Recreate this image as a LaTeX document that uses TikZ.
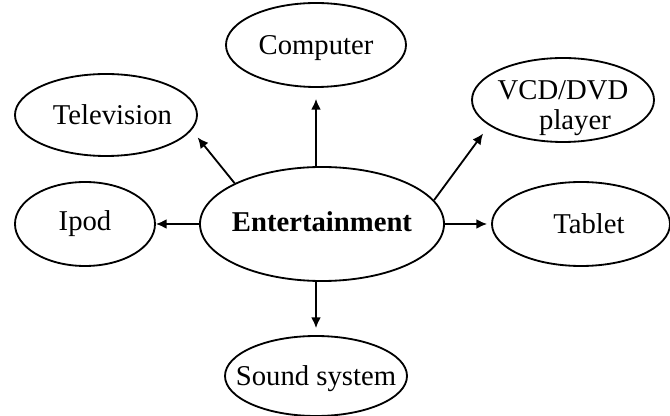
\documentclass[tikz,border=0pt]{standalone}
\usepackage{fontspec}
\setmainfont{Liberation Serif}
\usetikzlibrary{shapes.geometric, arrows.meta}

\begin{document}
\begin{tikzpicture}[>={Latex[length=0.27cm, width=0.25cm]}, line width=1.3pt,
  item/.style={ellipse, draw, inner sep=-0.6cm, minimum width=4.55cm, minimum height=2.1cm,
    font=\fontsize{20.4}{22}\selectfont, text height=13.5pt, text depth=0pt}]
\useasboundingbox (-8.05,-4.8) rectangle (8.7,5.6);
\node[item, minimum width=6.1cm, minimum height=2.85cm, text depth=0.12cm] (ent) at (0,0) {\textbf{Entertainment}};
\node[item, minimum width=4.5cm] (comp) at (-0.15,4.475) {Computer};
\node[item, minimum height=2.05cm] (tv) at (-5.4,2.725) {\hspace*{0.32cm}Television};
\node[item, text depth=14.9pt] (vcd) at (6.025,3.1) {\begin{tabular}[t]{@{}c@{}}VCD/DVD\\\hspace*{0.6cm}player\end{tabular}};
\node[item, minimum width=3.5cm, text depth=0.15cm] (ipod) at (-5.925,0) {Ipod};
\node[item, minimum width=4.45cm] (tab) at (6.475,0) {\hspace*{0.4cm}Tablet};
\node[item, minimum height=2cm] (snd) at (-0.15,-3.8) {Sound system};
\draw[->, shorten >=0.275cm] (ent.north -| comp) -- (comp.south);
\draw[->, shorten >=0.235cm] (ent.155) -- (tv.-10);
\draw[->, shorten >=0.25cm] (ent.12) -- (vcd.199);
\draw[->] (ent.west) -- (ipod.east);
\draw[->, shorten >=0.1cm] (ent.east) -- (tab.west);
\draw[->, shorten >=0.175cm] (ent.south -| snd) -- (snd.north);
\end{tikzpicture}
\end{document}
